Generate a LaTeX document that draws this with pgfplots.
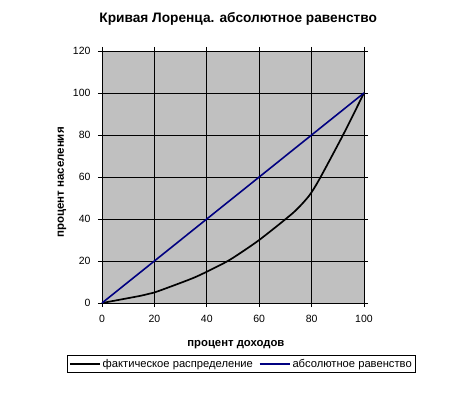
\documentclass[border=0pt]{standalone}
\usepackage{pgfplots}
\pgfplotsset{compat=1.18}
\usepackage{fontspec}
\setmainfont{Liberation Sans}
\definecolor{plotgray}{HTML}{C0C0C0}
\definecolor{navyline}{HTML}{000080}
\begin{document}
\begin{tikzpicture}
\useasboundingbox (-102bp,-94bp) rectangle (351bp,303bp);
\begin{axis}[
  at={(0,0)}, anchor=south west,
  scale only axis, width=262bp, height=252bp,
  xmin=0, xmax=100, ymin=0, ymax=120,
  xtick={0,20,...,100}, ytick={0,20,...,120},
  tick align=outside, major tick length=4bp,
  grid=major, grid style={black, line width=0.8pt},
  axis line style={black, line width=0.8pt},
  tick style={black, line width=0.8pt},
  axis background/.style={fill=plotgray},
  /pgf/number format/assume math mode=true,
  tick label style={font=\fontsize{10.5bp}{12bp}\selectfont},
  xticklabel style={yshift=-5bp},
  yticklabel style={xshift=-4bp},
  title={\textbf{Кривая Лоренца. абсолютное равенство}},
  title style={at={(axis description cs:0.52,1.103)}, anchor=center, font=\fontsize{13.7bp}{15bp}\selectfont},
  xlabel={\textbf{процент доходов}},
  xlabel style={at={(axis description cs:0.511,-0.167)}, anchor=center, font=\fontsize{11.3bp}{12bp}\selectfont},
  ylabel={\textbf{процент населения}},
  ylabel style={at={(axis description cs:-0.153,0.478)}, anchor=center, rotate=0, font=\fontsize{11.5bp}{12bp}\selectfont},
  legend columns=2,
  legend style={at={(axis description cs:0.532,-0.242)}, anchor=center, draw=black, line width=0.8pt, font=\fontsize{11.2bp}{12bp}\selectfont, inner sep=2bp, /tikz/every even column/.append style={column sep=4bp}},
  legend image code/.code={\draw[#1] (0cm,0cm) -- (30bp,0cm);},
  legend cell align=left,
  clip=false,
]
\addplot[black, line width=1.7pt, smooth, tension=0.4] coordinates {
(0,0) (15,3.5) (20,5) (35,12) (45,18) (50,21.5) (60,30) (73,43) (79,51) (83,59) (92,80) (100,100)};
\addlegendentry{фактическое распределение}
\addplot[navyline, line width=1.6pt] coordinates {(0,0) (100,100)};
\addlegendentry{абсолютное равенство}
\end{axis}
\end{tikzpicture}
\end{document}
